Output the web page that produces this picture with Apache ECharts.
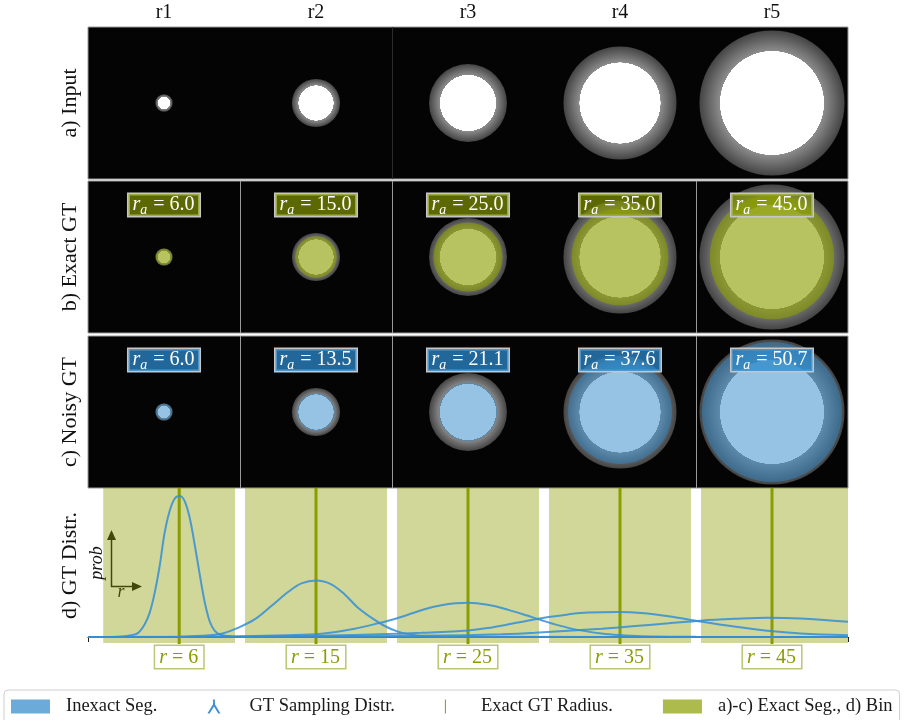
<!DOCTYPE html>
<html>
<head>
<meta charset="utf-8">
<script src="https://cdn.jsdelivr.net/npm/echarts@6/dist/echarts.min.js"></script>
<style>
  html, body { margin: 0; padding: 0; background: #fff; }
  #chart { width: 908px; height: 720px; }
</style>
</head>
<body>
<div id="chart"></div>
<script>
// Tile columns (each tile spans 110 units, centred on these x positions)
const columnNames = ['r1', 'r2', 'r3', 'r4', 'r5'];
const columnCenters = [55, 165, 275, 385, 495];

// Input images: radius of the bright core and of the blurred outer rim
const inputCore = [4.4, 12.7, 20.3, 29.3, 37.6];
const inputRim = [6.3, 17.4, 28.2, 40.9, 52.5];

// Ground-truth radii
const exactRadius = [6.0, 15.0, 25.0, 35.0, 45.0];
const noisyRadius = [6.0, 13.5, 21.1, 37.6, 50.7];

// Thin separators between tiles (x in tile units)
const dividersInput = [220];
const dividersGT = [110, 220, 440];

// Radius bins of the distribution panel
const binEdges = [1, 10, 20, 30, 40, 50];

// GT sampling distributions, [r, prob]
const distR6 = [[0, 0], [2, 0.001], [2.85, 0.006], [3.3, 0.014], [3.73, 0.043], [4.06, 0.082], [4.39, 0.149],
  [4.72, 0.24], [5.04, 0.35], [5.37, 0.423], [5.7, 0.464], [6.03, 0.473], [6.36, 0.456], [6.69, 0.4],
  [7.02, 0.31], [7.35, 0.21], [7.68, 0.117], [8.01, 0.052], [8.34, 0.021], [8.77, 0.007], [9.5, 0.002],
  [11, 0], [50, 0]];
const distR15 = [[0, 0], [6, 0.001], [7.5, 0.004], [8.77, 0.011], [9.87, 0.031], [10.96, 0.059], [12.06, 0.104],
  [13.16, 0.151], [14.04, 0.18], [15.03, 0.19], [16.01, 0.177], [16.89, 0.143], [17.76, 0.098],
  [18.64, 0.065], [19.52, 0.037], [20.39, 0.018], [21.27, 0.008], [22.15, 0.003], [25, 0.001], [50, 0]];
const distR25 = [[0, 0], [8, 0.001], [13.16, 0.006], [15.35, 0.011], [17.54, 0.028], [19.08, 0.046],
  [20.39, 0.064], [21.93, 0.09], [23.24, 0.107], [25, 0.115], [26.3, 0.108], [27.6, 0.092], [28.9, 0.072],
  [29.8, 0.057], [30.9, 0.04], [32.2, 0.024], [33.8, 0.012], [34.9, 0.007], [36.4, 0.003], [40, 0.001], [50, 0]];
const distR35 = [[0, 0], [10, 0.001], [15.35, 0.004], [19.74, 0.01], [21.93, 0.014], [25, 0.022], [26.3, 0.03],
  [27.6, 0.042], [28.9, 0.055], [30.3, 0.067], [31.6, 0.076], [32.9, 0.082], [34.9, 0.084], [36.4, 0.081],
  [38.2, 0.07], [40.3, 0.052], [42.5, 0.035], [44.7, 0.021], [46.9, 0.012], [50, 0.006]];
const distR45 = [[0, 0], [15, 0.002], [25, 0.006], [27.2, 0.009], [29.4, 0.014], [31.6, 0.021], [33.8, 0.028],
  [36, 0.037], [38.2, 0.046], [40.3, 0.055], [42.5, 0.061], [44.7, 0.065], [46.9, 0.062], [50, 0.051]];
const distributions = [distR6, distR15, distR25, distR35, distR45];

// ---- styling ----
const SERIF = 'Liberation Serif';
const OLIVE = '#8a9c00';
const GREEN_SEG = 'rgba(138,156,0,0.62)';
const GREEN_BOX = 'rgba(138,156,0,0.66)';
const GREEN_BIN = 'rgba(138,156,0,0.4)';
const BLUE_SEG = 'rgba(45,135,201,0.5)';
const BLUE_BOX = 'rgba(45,135,201,0.76)';
const CURVE = 'rgba(52,142,214,0.85)';
const TILE_HALF = 55;
const PROB_MIN = -0.02, PROB_MAX = 0.5;

const tileData = columnCenters.map((c, i) => [c, inputCore[i], inputRim[i]]);
const exactData = columnCenters.map((c, i) => [c, exactRadius[i]]);
const noisyData = columnCenters.map((c, i) => [c, noisyRadius[i]]);
const binData = binEdges.slice(0, -1).map((b, i) => [b, binEdges[i + 1]]);

function renderInput(params, api) {
  const c = api.coord([api.value(0), 0]);
  const rim = api.value(2);
  const k = api.value(1) / rim;
  return {
    type: 'circle',
    shape: { cx: c[0], cy: c[1], r: api.size([rim, 0])[0] },
    style: {
      fill: {
        type: 'radial', x: 0.5, y: 0.5, r: 0.5,
        colorStops: [
          { offset: 0, color: '#ffffff' }, { offset: k, color: '#ffffff' },
          { offset: Math.min(1, k + 0.002), color: '#8c8c8c' }, { offset: 1, color: '#444444' }
        ]
      }
    }
  };
}

function makeOverlay(segFill, boxFill) {
  return function (params, api) {
    const cx = api.value(0), r = api.value(1);
    const c = api.coord([cx, 0]);
    const top = api.coord([cx, TILE_HALF])[1];
    return {
      type: 'group',
      children: [
        { type: 'circle', shape: { cx: c[0], cy: c[1], r: api.size([r, 0])[0] }, style: { fill: segFill } },
        {
          type: 'text', x: c[0], y: top + 24,
          style: {
            text: '{r|r}{s|a}{v| = ' + r.toFixed(1) + '}',
            align: 'center', verticalAlign: 'middle',
            backgroundColor: boxFill, borderColor: '#c6c6c6', borderWidth: 1.5,
            padding: [0, 5, 0, 4],
            rich: {
              r: { fontFamily: SERIF, fontStyle: 'italic', fontSize: 20, lineHeight: 22, fill: '#fff' },
              s: { fontFamily: SERIF, fontStyle: 'italic', fontSize: 14, lineHeight: 14, padding: [10, 1, 0, 0], fill: '#fff' },
              v: { fontFamily: SERIF, fontSize: 20, lineHeight: 22, fill: '#fff' }
            }
          }
        }
      ]
    };
  };
}

function makeDivider(color) {
  return function (params, api) {
    const a = api.coord([api.value(0), TILE_HALF]);
    const b = api.coord([api.value(0), -TILE_HALF]);
    const x = Math.round(a[0]) + 0.5;
    return { type: 'line', shape: { x1: x, y1: a[1], x2: x, y2: b[1] }, style: { stroke: color, lineWidth: 1 } };
  };
}

function renderBin(params, api) {
  const p0 = api.coord([api.value(0), PROB_MAX]);
  const p1 = api.coord([api.value(1), PROB_MIN]);
  const gap = 5;
  const x0 = p0[0] + (params.dataIndex > 0 ? gap : 0);
  const x1 = p1[0] - (params.dataIndex < binData.length - 1 ? gap : 0);
  return { type: 'rect', shape: { x: x0, y: p0[1], width: x1 - x0, height: p1[1] - p0[1] }, style: { fill: GREEN_BIN } };
}

function renderRadiusLine(params, api) {
  const a = api.coord([api.value(0), PROB_MAX]);
  const b = api.coord([api.value(0), PROB_MIN]);
  return { type: 'line', shape: { x1: a[0], y1: a[1], x2: b[0], y2: b[1] + 1 }, style: { stroke: OLIVE, lineWidth: 3 } };
}

// Four stacked panels sharing the same horizontal extent
const rows = [
  { top: 27, height: 152, label: 'a) Input' },
  { top: 181, height: 152, label: 'b) Exact GT' },
  { top: 336, height: 152, label: 'c) Noisy GT' }
];

const grid = rows.map(r => ({
  left: 88, width: 760, top: r.top, height: r.height,
  show: true, backgroundColor: '#040404', borderColor: '#9a9a9a', borderWidth: 1
}));
grid.push({ left: 88, width: 760, top: 488, height: 155 });

const nameStyle = { fontFamily: SERIF, fontSize: 22, color: '#111' };
const hiddenParts = { axisLine: { show: false }, axisTick: { show: false }, axisLabel: { show: false }, splitLine: { show: false } };

const xAxis = rows.map((r, i) => ({
  type: 'value', gridIndex: i, min: 0, max: 550,
  show: i === 0, position: 'top',
  axisLine: { show: false }, axisTick: { show: false }, splitLine: { show: false },
  axisLabel: {
    show: i === 0, customValues: columnCenters, margin: 4,
    fontFamily: SERIF, fontSize: 20, color: '#111',
    formatter: v => columnNames[columnCenters.indexOf(v)]
  }
}));
xAxis.push({
  type: 'value', gridIndex: 3, min: 0, max: 50,
  axisLine: { show: true, lineStyle: { color: '#222', width: 1 } },
  axisTick: { show: true, customValues: [0, 50], length: 5, lineStyle: { color: '#222' } },
  splitLine: { show: false },
  axisLabel: {
    customValues: exactRadius, margin: 3, color: OLIVE,
    fontFamily: SERIF, fontSize: 20,
    backgroundColor: '#fff', borderColor: '#bcc674', borderWidth: 1.5, padding: [2, 5, 0, 4],
    formatter: v => '{i|r}{n| = ' + Math.round(v) + '}',
    rich: {
      i: { fontFamily: SERIF, fontStyle: 'italic', fontSize: 20, color: OLIVE },
      n: { fontFamily: SERIF, fontSize: 20, color: OLIVE }
    }
  }
});

const yAxis = rows.map((r, i) => Object.assign({
  type: 'value', gridIndex: i, min: -TILE_HALF, max: TILE_HALF,
  name: r.label, nameLocation: 'middle', nameRotate: 90, nameGap: 7, nameTextStyle: nameStyle
}, hiddenParts));
yAxis.push(Object.assign({
  type: 'value', gridIndex: 3, min: PROB_MIN, max: PROB_MAX,
  name: 'd) GT Distr.', nameLocation: 'middle', nameRotate: 90, nameGap: 7, nameTextStyle: nameStyle
}, hiddenParts));

const series = [];
// a) input tiles
series.push({ type: 'custom', name: 'Input', xAxisIndex: 0, yAxisIndex: 0, renderItem: renderInput, data: tileData });
series.push({ type: 'custom', name: 'Tile border', xAxisIndex: 0, yAxisIndex: 0, renderItem: makeDivider('#2c2c2c'), data: dividersInput.map(v => [v]) });
// b) exact ground truth over the input
series.push({ type: 'custom', name: 'Input', xAxisIndex: 1, yAxisIndex: 1, renderItem: renderInput, data: tileData });
series.push({ type: 'custom', name: 'a)-c) Exact Seg., d) Bin', xAxisIndex: 1, yAxisIndex: 1,
  renderItem: makeOverlay(GREEN_SEG, GREEN_BOX), data: exactData, itemStyle: { color: GREEN_SEG } });
series.push({ type: 'custom', name: 'Tile border', xAxisIndex: 1, yAxisIndex: 1, renderItem: makeDivider('#9a9a9a'), data: dividersGT.map(v => [v]) });
// c) noisy ground truth over the input
series.push({ type: 'custom', name: 'Input', xAxisIndex: 2, yAxisIndex: 2, renderItem: renderInput, data: tileData });
series.push({ type: 'custom', name: 'Inexact Seg.', xAxisIndex: 2, yAxisIndex: 2,
  renderItem: makeOverlay(BLUE_SEG, BLUE_BOX), data: noisyData, itemStyle: { color: BLUE_SEG } });
series.push({ type: 'custom', name: 'Tile border', xAxisIndex: 2, yAxisIndex: 2, renderItem: makeDivider('#9a9a9a'), data: dividersGT.map(v => [v]) });
// d) bins, exact radii and sampling distributions
series.push({ type: 'custom', name: 'a)-c) Exact Seg., d) Bin', xAxisIndex: 3, yAxisIndex: 3,
  renderItem: renderBin, data: binData, itemStyle: { color: GREEN_BIN } });
series.push({ type: 'custom', name: 'Exact GT Radius.', xAxisIndex: 3, yAxisIndex: 3,
  renderItem: renderRadiusLine, data: exactRadius.map(v => [v]), itemStyle: { color: OLIVE } });
distributions.forEach(d => series.push({
  type: 'line', name: 'GT Sampling Distr.', xAxisIndex: 3, yAxisIndex: 3,
  data: d, smooth: 0.35, showSymbol: false, symbol: 'none',
  lineStyle: { color: CURVE, width: 2 }, itemStyle: { color: CURVE }, z: 3
}));

const option = {
  animation: false,
  textStyle: { fontFamily: SERIF },
  grid, xAxis, yAxis, series,
  legend: {
    left: 4, top: 690, padding: [7, 7, 7, 7], itemGap: 50, itemWidth: 39, itemHeight: 14,
    borderColor: '#cfcfcf', borderWidth: 1, borderRadius: 4, backgroundColor: '#fff',
    textStyle: { fontFamily: SERIF, fontSize: 18.5, color: '#1a1a1a', padding: [0, 0, 0, 11] },
    data: [
      { name: 'Inexact Seg.', icon: 'rect', itemStyle: { color: 'rgba(45,135,201,0.7)' } },
      { name: 'GT Sampling Distr.', icon: 'path://M6,0 L8,0 L8,5 L14,15 L11.6,15 L7,7.6 L2.4,15 L0,15 L6,5 Z', itemStyle: { color: '#3f8fd2' } },
      { name: 'Exact GT Radius.', icon: 'path://M0,0 L1,0 L1,14 L0,14 Z', itemStyle: { color: OLIVE } },
      { name: 'a)-c) Exact Seg., d) Bin', icon: 'rect', itemStyle: { color: 'rgba(138,156,0,0.7)' } }
    ]
  },
  // small prob / r axes sketch inside the distribution panel
  graphic: [
    { type: 'line', shape: { x1: 111.5, y1: 587, x2: 111.5, y2: 538 }, style: { stroke: '#111', lineWidth: 1.5 } },
    { type: 'polygon', shape: { points: [[111.5, 530], [107, 540], [116, 540]] }, style: { fill: '#111' } },
    { type: 'line', shape: { x1: 111, y1: 586.5, x2: 134, y2: 586.5 }, style: { stroke: '#111', lineWidth: 1.5 } },
    { type: 'polygon', shape: { points: [[142, 586.5], [132, 582], [132, 591]] }, style: { fill: '#111' } },
    { type: 'text', x: 97, y: 563, rotation: Math.PI / 2,
      style: { text: 'prob', fontFamily: SERIF, fontStyle: 'italic', fontSize: 18, fill: '#111', align: 'center', verticalAlign: 'middle' } },
    { type: 'text', x: 121, y: 592,
      style: { text: 'r', fontFamily: SERIF, fontStyle: 'italic', fontSize: 18, fill: '#111', align: 'center', verticalAlign: 'middle' } }
  ]
};

const chart = echarts.init(document.getElementById('chart'), null, { renderer: 'canvas' });
chart.setOption(option);
</script>
</body>
</html>
